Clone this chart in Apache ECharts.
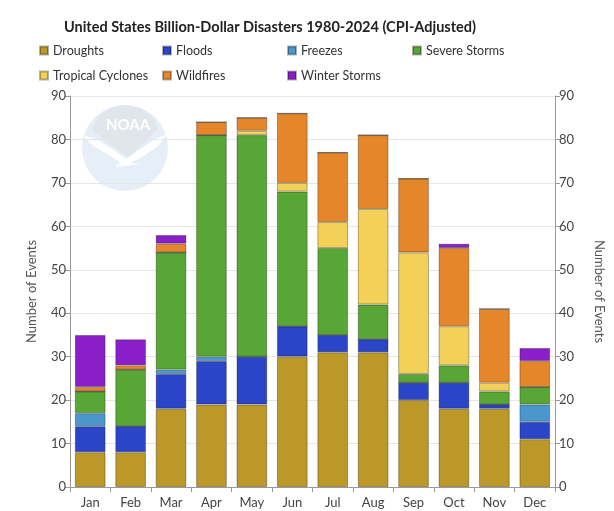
<!DOCTYPE html>
<html>
<head>
<meta charset="utf-8">
<script src="https://cdn.jsdelivr.net/npm/echarts@6/dist/echarts.min.js"></script>
<style>
  html, body { margin: 0; padding: 0; background: #fff; }
  #main { width: 614px; height: 511px; }
</style>
</head>
<body>
<div id="main"></div>
<script>
// months on the x axis
var months = ['Jan', 'Feb', 'Mar', 'Apr', 'May', 'Jun', 'Jul', 'Aug', 'Sep', 'Oct', 'Nov', 'Dec']

// event counts per month
var droughts = [8, 8, 18, 19, 19, 30, 31, 31, 20, 18, 18, 11]
var floods = [6, 6, 8, 10, 11, 7, 4, 3, 4, 6, 1, 4]
var freezes = [3, 0, 1, 1, 0, 0, 0, 0, 0, 0, 0, 4]
var severeStorms = [5, 13, 27, 51, 51, 31, 20, 8, 2, 4, 3, 4]
var tropicalCyclones = [0, 0, 0, 0, 1, 2, 6, 22, 28, 9, 2, 0]
var wildfires = [1, 1, 2, 3, 3, 16, 16, 17, 17, 18, 17, 6]
var winterStorms = [12, 6, 2, 0, 0, 0, 0, 0, 0, 1, 0, 3]

var yTicks = { min: 0, max: 90, interval: 10 }

var seriesDefs = [
    { name: 'Droughts', data: droughts, color: '#bb9828' },
    { name: 'Floods', data: floods, color: '#2a45c8' },
    { name: 'Freezes', data: freezes, color: '#4a97cc' },
    { name: 'Severe Storms', data: severeStorms, color: '#58a635' },
    { name: 'Tropical Cyclones', data: tropicalCyclones, color: '#f3d058' },
    { name: 'Wildfires', data: wildfires, color: '#e6862a' },
    { name: 'Winter Storms', data: winterStorms, color: '#8a1fc9' }
]

// legend is a 4 column grid, so one legend per item
var legendSpots = [
    [34, 0], [157, 0], [282, 0], [407, 0],
    [34, 1], [157, 1], [282, 1]
]
var legends = seriesDefs.map(function (s, i) {
    return {
        data: [s.name],
        left: legendSpots[i][0],
        top: 39 + legendSpots[i][1] * 25,
        itemWidth: 8,
        itemHeight: 8,
        icon: 'rect',
        selectedMode: false,
        textStyle: { fontFamily: 'Lato', fontSize: 12.5, color: '#333' }
    }
})

var chart = echarts.init(document.getElementById('main'), null, { renderer: 'canvas' })

var axisLabelStyle = { fontFamily: 'Lato', fontSize: 13, color: '#444' }
var axisNameStyle = { fontFamily: 'Lato', fontSize: 13, color: '#555' }

var option = {
    animation: false,
    backgroundColor: '#fff',
    title: {
        text: 'United States Billion-Dollar Disasters 1980-2024 (CPI-Adjusted)',
        left: 265,
        top: 15,
        textAlign: 'center',
        textStyle: { fontFamily: 'Lato', fontSize: 14.5, fontWeight: 'bold', color: '#222' }
    },
    legend: legends,
    grid: { left: 70, right: 54, top: 96, bottom: 24 },
    // faint NOAA watermark behind the bars
    graphic: [
        { type: 'circle', z: -1, shape: { cx: 125, cy: 148, r: 43 }, style: { fill: '#e6eff8' } },
        {
            type: 'polygon', z: -1,
            shape: { points: [[98, 116], [110, 108], [125, 105], [140, 108], [152, 116], [158, 128], [148, 140], [128, 157], [112, 146], [92, 130]] },
            style: { fill: '#e1e5ec' }
        },
        {
            type: 'polygon', z: -1,
            shape: { points: [[83, 135], [98, 140], [114, 150], [126, 159], [142, 148], [157, 138], [167, 134], [158, 146], [142, 157], [130, 163], [140, 164], [116, 167], [120, 162], [105, 153], [92, 145]] },
            style: { fill: '#ffffff' }
        },
        {
            type: 'text', z: -1, left: 106, top: 118,
            style: { text: 'NOAA', fill: '#ffffff', font: 'bold 15px Lato' }
        }
    ],
    xAxis: {
        type: 'category',
        data: months,
        axisLine: { lineStyle: { color: '#999' } },
        axisTick: { show: true, length: 5, lineStyle: { color: '#999' } },
        axisLabel: Object.assign({ margin: 9 }, axisLabelStyle)
    },
    yAxis: [{
        type: 'value',
        min: yTicks.min,
        max: yTicks.max,
        interval: yTicks.interval,
        name: 'Number of Events',
        nameLocation: 'middle',
        nameGap: 32,
        nameTextStyle: axisNameStyle,
        axisLine: { show: true, lineStyle: { color: '#999' } },
        axisTick: { show: true, length: 5, lineStyle: { color: '#999' } },
        axisLabel: Object.assign({ margin: 4 }, axisLabelStyle),
        splitLine: { lineStyle: { color: '#e6e6e6' } }
    }, {
        type: 'value',
        position: 'right',
        min: yTicks.min,
        max: yTicks.max,
        interval: yTicks.interval,
        name: 'Number of Events',
        nameLocation: 'middle',
        nameGap: 38,
        nameRotate: -90,
        nameTextStyle: axisNameStyle,
        axisLine: { show: true, lineStyle: { color: '#999' } },
        axisTick: { show: true, length: 5, lineStyle: { color: '#999' } },
        axisLabel: Object.assign({ margin: 4 }, axisLabelStyle),
        splitLine: { show: false }
    }],
    series: seriesDefs.map(function (s) {
        return {
            name: s.name,
            type: 'bar',
            stack: 'all',
            data: s.data,
            barCategoryGap: '24%',
            itemStyle: { color: s.color, borderColor: 'rgba(0,0,0,0.3)', borderWidth: 1 }
        }
    })
}

chart.setOption(option)
</script>
</body>
</html>
